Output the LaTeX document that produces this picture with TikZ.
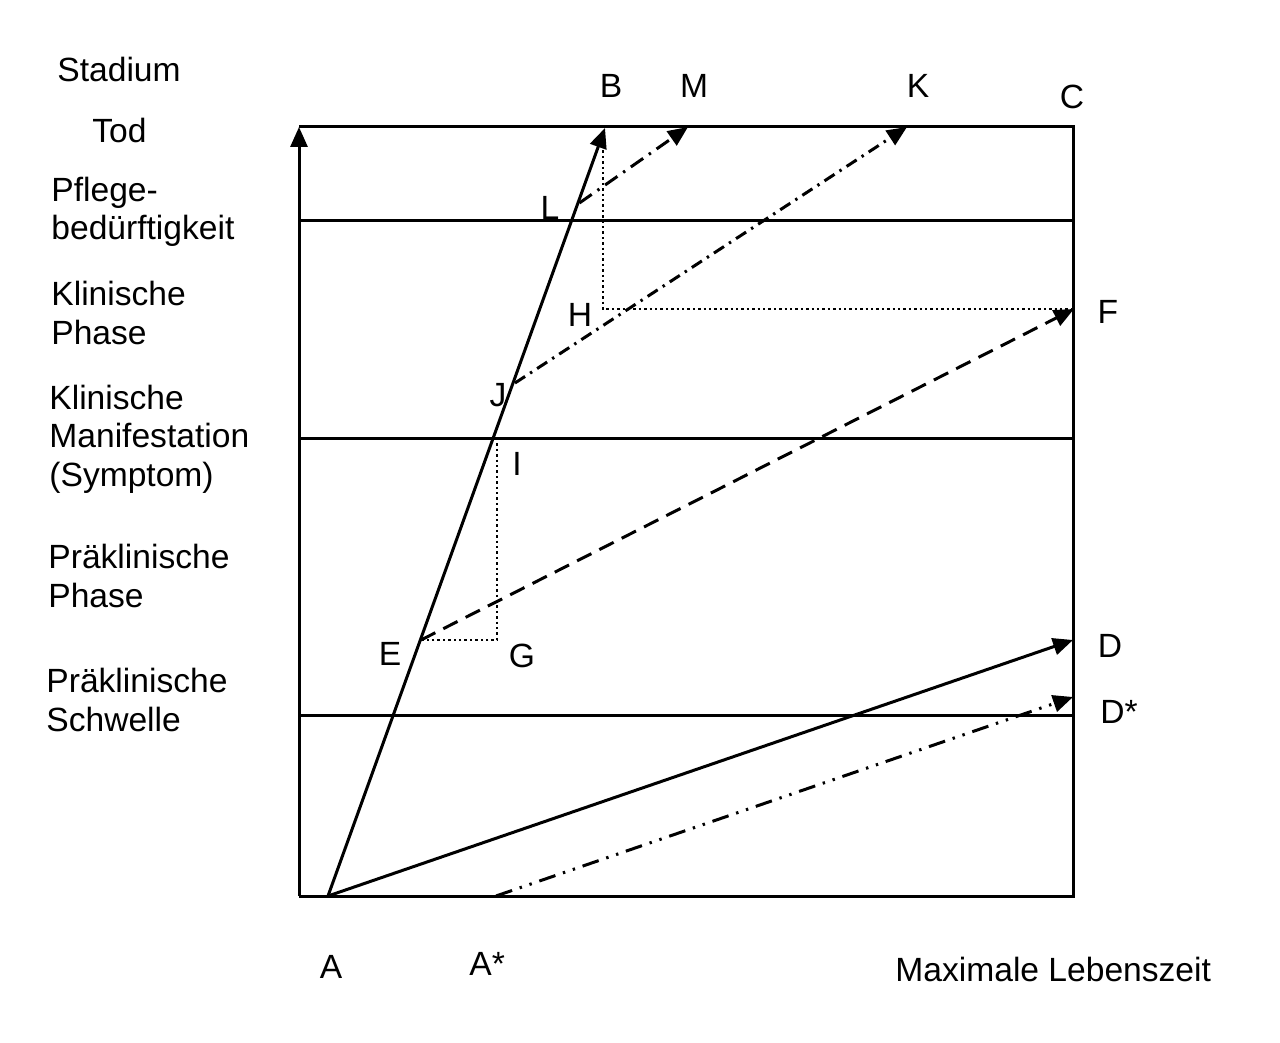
\documentclass[tikz,border=0pt]{standalone}
\usepackage{fontspec}
\setmainfont{Liberation Sans}
\usetikzlibrary{arrows.meta}
\begin{document}
\begin{tikzpicture}[x=0.5pt,y=-0.5pt,
  font=\fontsize{16.8}{19.25}\selectfont,
  ln/.style={line width=1.5pt},
  tipped/.style={-{Triangle[length=10pt,width=8.5pt]}},
  dashdotlong/.style={line width=1.5pt, dash pattern=on 7.5pt off 3.5pt on 1.2pt off 3.5pt},
  dashdotshort/.style={line width=1.5pt, dash pattern=on 6pt off 3pt on 1.2pt off 3pt},
  dashdotdot/.style={line width=1.5pt, dash pattern=on 8.5pt off 4pt on 1.2pt off 4pt on 1.2pt off 4pt},
  dashline/.style={line width=1.5pt, dash pattern=on 8pt off 4.5pt},
  dotline/.style={line width=1.3pt, dash pattern=on 1.2pt off 1.5pt},
  lbl/.style={anchor=base, inner sep=0pt},
  side/.style={anchor=base west, inner sep=0pt}]
\useasboundingbox (0,0) rectangle (1280,1043);
% frame corners
\coordinate (O) at (299,896);
\coordinate (TL) at (299,127);
\coordinate (TR) at (1073,127);
\coordinate (BR) at (1073,896);
% horizontal stage lines
\coordinate (h1l) at (299,221); \coordinate (h1r) at (1073,221);
\coordinate (h2l) at (299,438); \coordinate (h2r) at (1073,438);
\coordinate (h3l) at (299,715); \coordinate (h3r) at (1073,715);
% points
\coordinate (A) at (328,896);
\coordinate (Astar) at (496,896);
\coordinate (B) at (605,128);
\coordinate (M) at (688,127);
\coordinate (K) at (907,127);
\coordinate (F) at (1074,309);
\coordinate (D) at (1073,640);
\coordinate (Dstar) at (1073,697);
\coordinate (L) at (579.4,203);
\coordinate (J) at (515,383);
\coordinate (E) at (421,640);
\coordinate (I) at (497,438);
\coordinate (G) at (497,640);
\coordinate (Bd) at (603,145);
\coordinate (H) at (603,309);
\coordinate (Fd) at (1073,309);
% frame
\draw[ln] (TL) -- (TR) -- (BR) -- (O);
\draw[ln,tipped] (O) -- (TL);
\draw[ln] (h1l) -- (h1r);
\draw[ln] (h2l) -- (h2r);
\draw[ln] (h3l) -- (h3r);
% dotted helper lines
\draw[dotline] (Bd) -- (H) -- (Fd);
\draw[dotline] (I) -- (G) -- (E);
% trajectories
\draw[ln,tipped] (A) -- (B);
\draw[ln,tipped] (A) -- (D);
\draw[dashdotdot,tipped] (Astar) -- (Dstar);
\draw[dashdotlong,tipped] (L) -- (M);
\draw[dashdotshort,tipped] (J) -- (K);
\draw[dashline,tipped] (E) -- (F);
% point labels
\node[lbl] (tB) at (611,98) {B};
\node[lbl] (tM) at (694,98) {M};
\node[lbl] (tK) at (918,98) {K};
\node[lbl] (tC) at (1072,109) {C};
\node[lbl] (tL) at (550,220) {L};
\node[lbl] (tH) at (580,327) {H};
\node[lbl] (tF) at (1108,324) {F};
\node[lbl] (tJ) at (498,406) {J};
\node[lbl] (tI) at (517,475) {I};
\node[lbl] (tE) at (390,665) {E};
\node[lbl] (tG) at (522,667) {G};
\node[lbl] (tD) at (1110,657) {D};
\node[side] (tDs) at (1100,723) {D*};
\node[lbl] (tA) at (331,978) {A};
\node[side] (tAs) at (469,975) {A*};
\node[side] (tMax) at (895,981) {Maximale Lebenszeit};
% stage labels
\node[side] (s0) at (57,82) {Stadium};
\node[side] (s1) at (92,143) {Tod};
\node[side] (s2a) at (51,202) {Pflege-};
\node[side] (s2b) at (51,240) {bedürftigkeit};
\node[side] (s3a) at (51,306) {Klinische};
\node[side] (s3b) at (51,344) {Phase};
\node[side] (s4a) at (49,409) {Klinische};
\node[side] (s4b) at (49,447) {Manifestation};
\node[side] (s4c) at (49,486) {(Symptom)};
\node[side] (s5a) at (48,568) {Präklinische};
\node[side] (s5b) at (48,607) {Phase};
\node[side] (s6a) at (46,692) {Präklinische};
\node[side] (s6b) at (46,731) {Schwelle};
\end{tikzpicture}
\end{document}
